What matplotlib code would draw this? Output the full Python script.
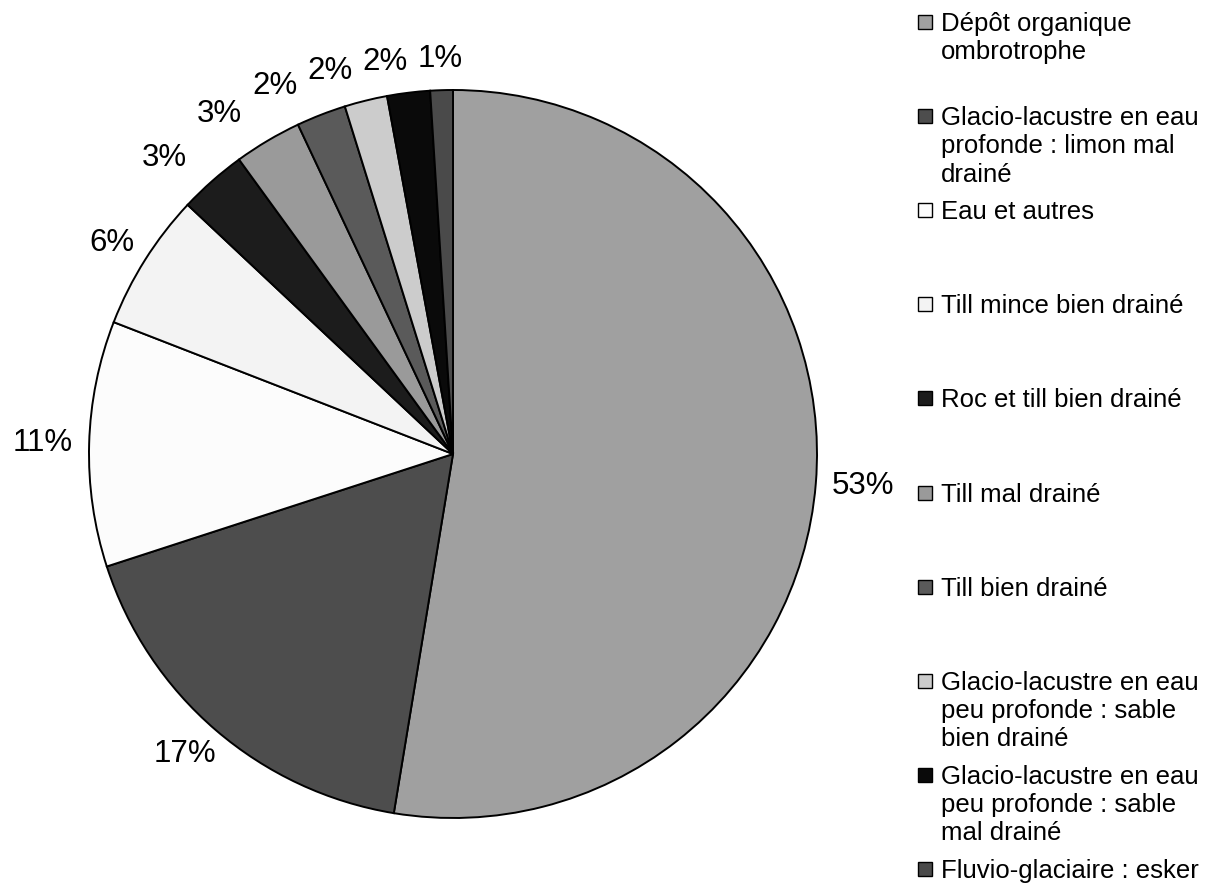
import matplotlib
matplotlib.use('Agg')
import matplotlib.pyplot as plt
from matplotlib.patches import Rectangle
import numpy as np

plt.rcParams['font.family'] = ['Liberation Sans', 'DejaVu Sans']

# classes de dépôts de surface, dans l'ordre des pointes de tarte
categories = [
    'Dépôt organique\nombrotrophe',
    'Glacio-lacustre en eau\nprofonde : limon mal\ndrainé',
    'Eau et autres',
    'Till mince bien drainé',
    'Roc et till bien drainé',
    'Till mal drainé',
    'Till bien drainé',
    'Glacio-lacustre en eau\npeu profonde : sable\nbien drainé',
    'Glacio-lacustre en eau\npeu profonde : sable\nmal drainé',
    'Fluvio-glaciaire : esker',
]
shares = [52.6, 17.4, 10.9, 6.1, 3.0, 3.0, 2.2, 1.9, 1.9, 1.0]
colors = ['#a0a0a0', '#4d4d4d', '#fcfcfc', '#f3f3f3', '#1c1c1c',
          '#9a9a9a', '#5a5a5a', '#cccccc', '#0a0a0a', '#4a4a4a']

W, H = 1217, 885
fig = plt.figure(figsize=(W / 100, H / 100), dpi=100)

# tarte : centre et rayon en pixels
cx, cy, R = 453, 454, 364
lim = 1.2
side = 2 * lim * R
ax = fig.add_axes([(cx - side / 2) / W, (H - cy - side / 2) / H, side / W, side / H])
wedges, _ = ax.pie(shares, colors=colors, startangle=90, counterclock=False,
                   radius=1.0,
                   wedgeprops=dict(edgecolor='black', linewidth=1.4))
ax.set_xlim(-lim, lim)
ax.set_ylim(-lim, lim)
ax.set_aspect('equal')

# étiquettes de pourcentage à l'extérieur de chaque pointe
renderer = fig.canvas.get_renderer()
gap = 16
centers = []
sizes = []
dirs = []
texts = []
for w, s in zip(wedges, shares):
    a = np.deg2rad((w.theta1 + w.theta2) / 2)
    u = np.array([np.cos(a), np.sin(a)])
    t = ax.text(u[0], u[1], '%.0f%%' % s, ha='center', va='center', fontsize=22.5)
    bb = t.get_window_extent(renderer)
    p = ax.transData.transform(u)
    c = p + u * gap + np.array([u[0] * bb.width / 2, u[1] * bb.height / 2])
    centers.append(c)
    sizes.append((bb.width, bb.height))
    dirs.append(u)
    texts.append(t)

# les petites pointes du haut : on décale vers la gauche pour éviter les chevauchements
prev_left = None
for k in range(len(texts) - 1, -1, -1):
    if dirs[k][1] < 0.6:
        break
    c = centers[k]
    wpx = sizes[k][0]
    if prev_left is not None and c[0] + wpx / 2 > prev_left - 10:
        c[0] = prev_left - 10 - wpx / 2
    prev_left = c[0] - wpx / 2

for t, c in zip(texts, centers):
    t.set_position(ax.transData.inverted().transform(c))

# légende
line_step = 28.3
for i, (name, col) in enumerate(zip(categories, colors)):
    base = 31 + i * 94.1
    fig.add_artist(Rectangle((918 / W, (H - base + 2) / H), 14 / W, 14 / H,
                             transform=fig.transFigure, facecolor=col,
                             edgecolor='black', linewidth=1.0))
    for j, line in enumerate(name.split('\n')):
        fig.text(941 / W, (H - base - j * line_step) / H, line, ha='left',
                 va='baseline', fontsize=18.5)

fig.savefig('out.png', dpi=100)
